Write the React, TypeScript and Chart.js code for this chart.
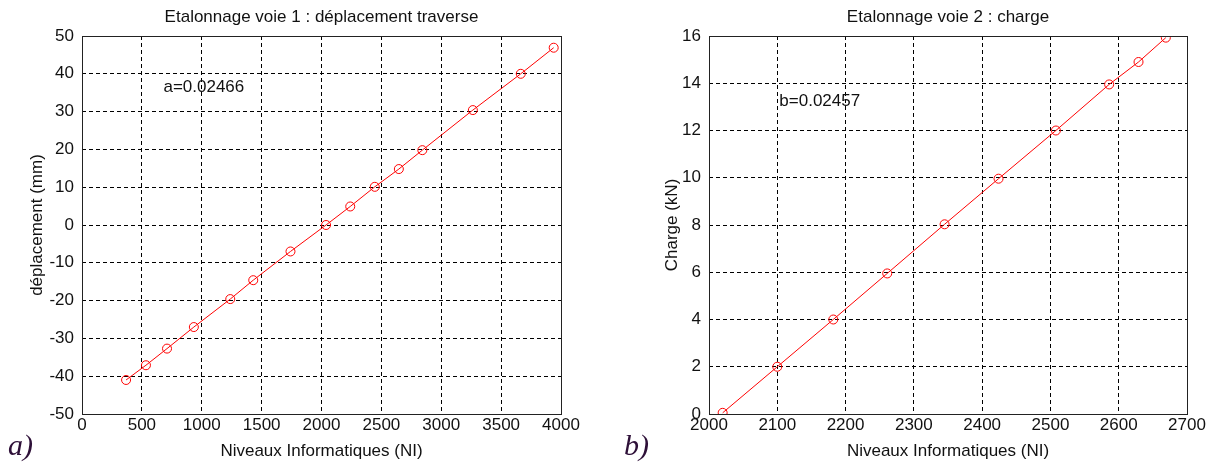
import React, { useEffect, useRef } from 'react';
import { Chart, registerables } from 'chart.js';

Chart.register(...registerables);

// Panel a) : déplacement traverse
const niveaux1 = [368, 534, 710, 934, 1238, 1430, 1741, 2038, 2240, 2445, 2646, 2842, 3264, 3664, 3939];
const deplacement1 = [-41.0, -37.1, -32.7, -27.0, -19.6, -14.6, -7.0, 0, 4.9, 10.1, 14.8, 19.8, 30.4, 40.0, 46.9];
const title1 = 'Etalonnage voie 1 : déplacement traverse';
const yTitle1 = 'déplacement (mm)';
const annot1 = 'a=0.02466';
const annot1Pos = [680, 36.5];
const panel1 = 'a)';

// Panel b) : charge
const niveaux2 = [2020, 2100, 2182, 2261, 2345, 2424, 2508, 2586, 2629, 2669];
const charge2 = [0.05, 2.0, 4.0, 5.95, 8.03, 9.96, 12.0, 13.95, 14.9, 15.93];
const title2 = 'Etalonnage voie 2 : charge';
const yTitle2 = 'Charge (kN)';
const annot2 = 'b=0.02457';
const annot2Pos = [2103, 13.25];
const panel2 = 'b)';

const xTitle = 'Niveaux Informatiques (NI)';

const FONT = "'Liberation Sans', Arial, sans-serif";
const FS = 17;

type Cfg = {
  xs: number[]; ys: number[];
  xMin: number; xMax: number; xStep: number;
  yMin: number; yMax: number; yStep: number;
  title: string; yTitle: string; annot: string; annotPos: number[]; panel: string;
  yAxisW: number; padRight: number; panelX: number; yTitlePad: number;
};

function makeDecor(c: Cfg) {
  return {
    id: 'decor',
    afterDraw(chart: any) {
      const { ctx, chartArea: a, scales } = chart;
      ctx.save();
      ctx.strokeStyle = '#222';
      ctx.lineWidth = 1;
      ctx.setLineDash([]);
      const l = Math.round(a.left) + 0.5, t = Math.round(a.top) + 0.5;
      const r = Math.round(a.right) + 0.5, b = Math.round(a.bottom) + 0.5;
      ctx.strokeRect(l, t, r - l, b - t);
      ctx.fillStyle = '#111';
      ctx.font = `${FS}px ${FONT}`;
      ctx.textAlign = 'center';
      ctx.textBaseline = 'middle';
      ctx.fillText(c.title, (a.left + a.right) / 2, 17);
      ctx.textAlign = 'left';
      ctx.fillText(c.annot, scales.x.getPixelForValue(c.annotPos[0]), scales.y.getPixelForValue(c.annotPos[1]));
      ctx.fillStyle = '#2e1038';
      ctx.font = `italic 30px 'Liberation Serif', 'Times New Roman', serif`;
      ctx.textAlign = 'left';
      ctx.textBaseline = 'alphabetic';
      ctx.fillText(c.panel, c.panelX, 455);
      ctx.restore();
    },
  };
}

function Panel({ c, left, width }: { c: Cfg; left: number; width: number }) {
  const ref = useRef<HTMLCanvasElement | null>(null);
  useEffect(() => {
    if (!ref.current) return;
    const chart = new Chart(ref.current, {
      type: 'line',
      data: {
        datasets: [
          {
            data: c.xs.map((x, i) => ({ x, y: c.ys[i] })),
            borderColor: '#ff0000',
            borderWidth: 1,
            pointStyle: 'circle',
            pointRadius: 4.5,
            pointBorderWidth: 1,
            pointBorderColor: '#ff0000',
            pointBackgroundColor: 'rgba(0,0,0,0)',
            tension: 0,
            fill: false,
          },
        ],
      },
      options: {
        responsive: false,
        animation: false,
        devicePixelRatio: 1,
        layout: { padding: { left: 0, right: c.padRight, top: 36, bottom: 0 } },
        plugins: { legend: { display: false }, tooltip: { enabled: false }, title: { display: false } },
        scales: {
          x: {
            type: 'linear',
            min: c.xMin, max: c.xMax,
            ticks: {
              stepSize: c.xStep, color: '#111', font: { family: FONT, size: FS }, padding: 1, maxRotation: 0,
              callback: (v: any) => String(v),
            },
            grid: { color: '#000', lineWidth: 1, drawTicks: false, borderDash: [4, 3] } as any,
            border: { display: false, dash: [4, 3] },
            title: { display: true, text: xTitle, color: '#111', font: { family: FONT, size: FS }, padding: { top: 0, bottom: 2 } },
            afterFit: (s: any) => { s.height = 50; },
          },
          y: {
            type: 'linear',
            min: c.yMin, max: c.yMax,
            ticks: {
              stepSize: c.yStep, color: '#111', font: { family: FONT, size: FS }, padding: 8,
              callback: (v: any) => String(v),
            },
            grid: { color: '#000', lineWidth: 1, drawTicks: false, borderDash: [4, 3] } as any,
            border: { display: false, dash: [4, 3] },
            title: { display: true, text: c.yTitle, color: '#111', font: { family: FONT, size: FS }, padding: { top: c.yTitlePad, bottom: 0 } },
            afterFit: (s: any) => { s.width = c.yAxisW; },
          },
        },
      } as any,
      plugins: [makeDecor(c)],
    });
    return () => chart.destroy();
  }, []);
  return (
    <canvas
      ref={ref}
      width={width}
      height={464}
      style={{ position: 'absolute', left, top: 0, width, height: 464, display: 'block' }}
    />
  );
}

export default function App() {
  useEffect(() => {
    document.body.style.margin = '0';
    document.body.style.background = '#fff';
  }, []);
  const c1: Cfg = {
    xs: niveaux1, ys: deplacement1, xMin: 0, xMax: 4000, xStep: 500,
    yMin: -50, yMax: 50, yStep: 10, title: title1, yTitle: yTitle1,
    annot: annot1, annotPos: annot1Pos, panel: panel1,
    yAxisW: 82, padRight: 45, panelX: 8, yTitlePad: 27,
  };
  const c2: Cfg = {
    xs: niveaux2, ys: charge2, xMin: 2000, xMax: 2700, xStep: 100,
    yMin: 0, yMax: 16, yStep: 2, title: title2, yTitle: yTitle2,
    annot: annot2, annotPos: annot2Pos, panel: panel2,
    yAxisW: 103, padRight: 26, panelX: 18, yTitlePad: 56,
  };
  return (
    <div style={{ position: 'relative', width: 1213, height: 464, background: '#fff', overflow: 'hidden' }}>
      <Panel c={c1} left={0} width={606} />
      <Panel c={c2} left={606} width={607} />
    </div>
  );
}
